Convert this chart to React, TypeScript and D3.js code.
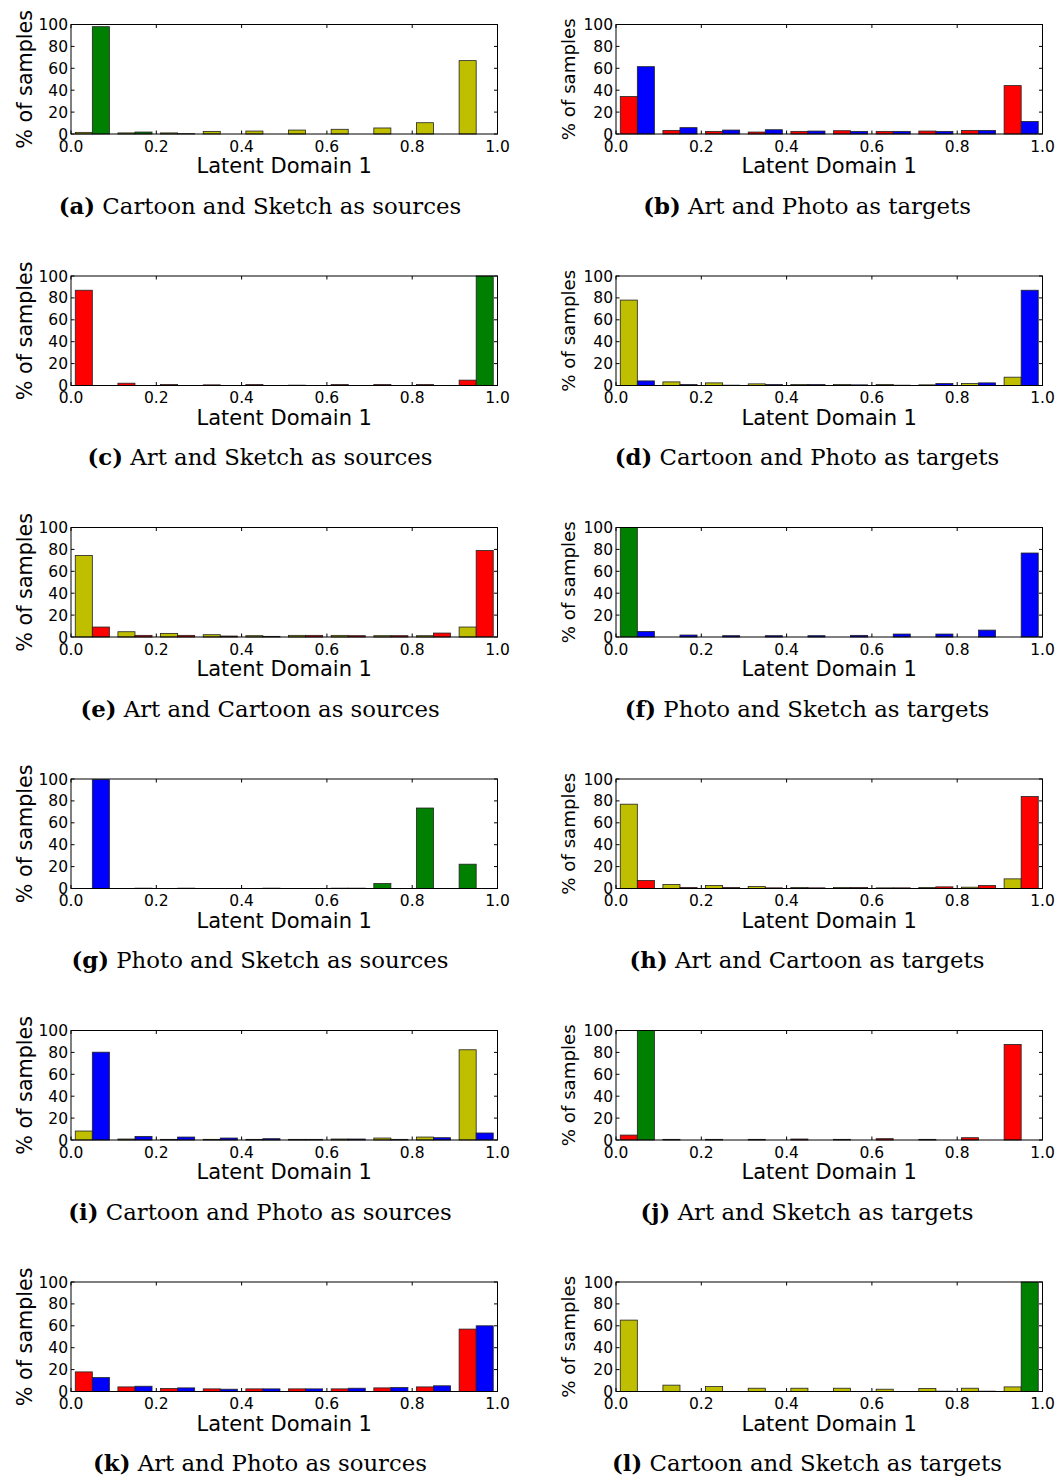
import { useEffect, useRef } from "react";
import * as d3 from "d3";

// histogram bins (left edges), width 0.1
const binEdges = [0, 0.1, 0.2, 0.3, 0.4, 0.5, 0.6, 0.7, 0.8, 0.9];
const xTicks = [0, 0.2, 0.4, 0.6, 0.8, 1.0];
const yTicks = [0, 20, 40, 60, 80, 100];

const YELLOW = "#bfbf00";
const GREEN = "#008000";
const RED = "#ff0000";
const BLUE = "#0000ff";

// (a) Cartoon and Sketch as sources
const aCartoon = [1.5, 1.0, 1.0, 2.4, 2.7, 3.6, 4.3, 5.5, 10.3, 67];
const aSketch = [98, 1.8, 0.3, 0, 0, 0, 0, 0, 0, 0];
// (b) Art and Photo as targets
const bArt = [34.2, 3.3, 2.4, 1.8, 2.4, 3.0, 2.4, 2.7, 3.3, 44.2];
const bPhoto = [61.5, 5.8, 3.6, 3.9, 2.7, 2.4, 2.4, 2.4, 3.3, 11.5];
// (c) Art and Sketch as sources
const cArt = [87, 2.1, 0.9, 0.6, 0.9, 0.3, 0.9, 0.9, 0.9, 4.9];
const cSketch = [0, 0, 0, 0, 0, 0, 0, 0, 0, 100];
// (d) Cartoon and Photo as targets
const dCartoon = [78, 3.3, 2.4, 1.5, 0.9, 0.9, 0.9, 0.6, 1.8, 7.6];
const dPhoto = [4.2, 0.9, 0.3, 0.9, 0.9, 0.6, 0.3, 1.8, 2.4, 87];
// (e) Art and Cartoon as sources
const eCartoon = [74.5, 4.8, 3.3, 2.1, 1.2, 1.5, 1.5, 1.2, 1.2, 9.1];
const eArt = [9.1, 1.5, 1.5, 0.9, 0.6, 1.5, 1.2, 1.2, 3.6, 79];
// (f) Photo and Sketch as targets
const fSketch = [100, 0, 0, 0, 0, 0, 0, 0, 0, 0];
const fPhoto = [5.1, 1.8, 1.2, 1.2, 1.2, 1.5, 2.7, 2.7, 6.3, 76.7];
// (g) Photo and Sketch as sources
const gSketch = [0, 0, 0, 0, 0, 0, 0.3, 4.5, 73.5, 22.2];
const gPhoto = [99.4, 0.3, 0.3, 0, 0.3, 0, 0.3, 0, 0, 0];
// (h) Art and Cartoon as targets
const hCartoon = [77, 3.6, 2.7, 1.8, 0.9, 0.9, 0.6, 0.9, 1.2, 8.8];
const hArt = [7.3, 0.9, 0.9, 0.6, 0.6, 0.9, 0.6, 1.5, 2.7, 84];
// (i) Cartoon and Photo as sources
const iCartoon = [8.2, 0.9, 0.6, 0.6, 0.6, 0.6, 0.9, 1.8, 2.7, 82.4];
const iPhoto = [80.2, 3.3, 2.7, 1.8, 1.2, 0.6, 0.9, 0.6, 2.1, 6.4];
// (j) Art and Sketch as targets
const jArt = [4.5, 0.6, 0.6, 0.6, 0.9, 0.6, 1.2, 0.6, 2.1, 87.3];
const jSketch = [100, 0, 0, 0, 0, 0, 0, 0, 0, 0];
// (k) Art and Photo as sources
const kArt = [17.9, 4.2, 2.7, 2.4, 2.4, 2.4, 2.4, 3.3, 4.2, 57];
const kPhoto = [12.7, 4.8, 3.3, 2.1, 2.4, 2.4, 3.0, 3.6, 5.2, 60];
// (l) Cartoon and Sketch as targets
const lCartoon = [65.2, 5.8, 4.5, 3.0, 3.0, 3.0, 2.1, 2.7, 3.0, 4.2];
const lSketch = [0, 0, 0, 0, 0, 0, 0, 0.3, 0.3, 100];

const panels = [
  { tag: "(a)", caption: "Cartoon and Sketch as sources", series: [[aCartoon, YELLOW], [aSketch, GREEN]] },
  { tag: "(b)", caption: "Art and Photo as targets", series: [[bArt, RED], [bPhoto, BLUE]] },
  { tag: "(c)", caption: "Art and Sketch as sources", series: [[cArt, RED], [cSketch, GREEN]] },
  { tag: "(d)", caption: "Cartoon and Photo as targets", series: [[dCartoon, YELLOW], [dPhoto, BLUE]] },
  { tag: "(e)", caption: "Art and Cartoon as sources", series: [[eCartoon, YELLOW], [eArt, RED]] },
  { tag: "(f)", caption: "Photo and Sketch as targets", series: [[fSketch, GREEN], [fPhoto, BLUE]] },
  { tag: "(g)", caption: "Photo and Sketch as sources", series: [[gSketch, GREEN], [gPhoto, BLUE]] },
  { tag: "(h)", caption: "Art and Cartoon as targets", series: [[hCartoon, YELLOW], [hArt, RED]] },
  { tag: "(i)", caption: "Cartoon and Photo as sources", series: [[iCartoon, YELLOW], [iPhoto, BLUE]] },
  { tag: "(j)", caption: "Art and Sketch as targets", series: [[jArt, RED], [jSketch, GREEN]] },
  { tag: "(k)", caption: "Art and Photo as sources", series: [[kArt, RED], [kPhoto, BLUE]] },
  { tag: "(l)", caption: "Cartoon and Sketch as targets", series: [[lCartoon, YELLOW], [lSketch, GREEN]] },
];

const W = 1062;
const H = 1481;

export default function App() {
  const svgRef = useRef<SVGSVGElement>(null);

  useEffect(() => {
    const svg = d3.select(svgRef.current);
    svg.selectAll("*").remove();

    const plotW = 426.5;
    const plotH = 109.5;
    const colX = [71, 616];
    const colCenter = [260, 807];
    const yLabelX = [32, 575];
    const yLabelSize = [20.7, 18.2];

    panels.forEach((p, idx) => {
      const col = idx % 2;
      const row = Math.floor(idx / 2);
      const x0 = colX[col];
      const top = 24.5 + row * 251.5;
      const bottom = top + plotH;

      const x = d3.scaleLinear().domain([0, 1]).range([x0, x0 + plotW]);
      const y = d3.scaleLinear().domain([0, 100]).range([bottom, top]);

      const g = svg.append("g");

      // bars: matplotlib hist with two datasets side by side (rwidth 0.8)
      const barW = 0.04;
      p.series.forEach(([vals, color], s) => {
        const data = (vals as number[])
          .map((v, i) => ({ v, e: binEdges[i] }))
          .filter((d) => d.v > 0);
        g.append("g")
          .selectAll("rect")
          .data(data)
          .enter()
          .append("rect")
          .attr("x", (d) => x(d.e + 0.01 + s * barW))
          .attr("width", x(barW) - x(0))
          .attr("y", (d) => y(Math.min(d.v, 100)))
          .attr("height", (d) => y(0) - y(Math.min(d.v, 100)))
          .attr("fill", color as string)
          .attr("stroke", "#222")
          .attr("stroke-width", 0.8);
      });

      // frame
      g.append("rect")
        .attr("x", x0)
        .attr("y", top)
        .attr("width", plotW)
        .attr("height", plotH)
        .attr("fill", "none")
        .attr("stroke", "#000")
        .attr("stroke-width", 1);

      const tickLen = 3.5;
      // x ticks (inward, top and bottom)
      xTicks.forEach((t) => {
        g.append("line").attr("x1", x(t)).attr("x2", x(t)).attr("y1", bottom).attr("y2", bottom - tickLen).attr("stroke", "#000");
        g.append("line").attr("x1", x(t)).attr("x2", x(t)).attr("y1", top).attr("y2", top + tickLen).attr("stroke", "#000");
        g.append("text")
          .attr("x", x(t))
          .attr("y", bottom + 17.5)
          .attr("text-anchor", "middle")
          .style("font-family", "DejaVu Sans")
          .style("font-size", "15.5px")
          .text(d3.format(".1f")(t));
      });
      // y ticks (inward, left and right)
      yTicks.forEach((t) => {
        g.append("line").attr("x1", x0).attr("x2", x0 + tickLen).attr("y1", y(t)).attr("y2", y(t)).attr("stroke", "#000");
        g.append("line").attr("x1", x0 + plotW).attr("x2", x0 + plotW - tickLen).attr("y1", y(t)).attr("y2", y(t)).attr("stroke", "#000");
        g.append("text")
          .attr("x", x0 - 3)
          .attr("y", y(t))
          .attr("dy", "0.36em")
          .attr("text-anchor", "end")
          .style("font-family", "DejaVu Sans")
          .style("font-size", "15.5px")
          .text(t);
      });

      // axis labels
      g.append("text")
        .attr("x", x0 + plotW / 2)
        .attr("y", bottom + 39)
        .attr("text-anchor", "middle")
        .style("font-family", "DejaVu Sans")
        .style("font-size", "21px")
        .text("Latent Domain 1");

      g.append("text")
        .attr("transform", `translate(${yLabelX[col]},${(top + bottom) / 2}) rotate(-90)`)
        .attr("text-anchor", "middle")
        .style("font-family", "DejaVu Sans")
        .style("font-size", `${yLabelSize[col]}px`)
        .text("% of samples");

      // caption
      const cap = g.append("text")
        .attr("x", colCenter[col])
        .attr("y", bottom + 79.5)
        .attr("text-anchor", "middle")
        .style("font-family", "DejaVu Serif")
        .style("font-size", "22.8px");
      cap.append("tspan").style("font-weight", "bold").text(p.tag);
      cap.append("tspan").text(" " + p.caption);
    });
  }, []);

  return (
    <svg
      ref={svgRef}
      width={W}
      height={H}
      style={{ position: "absolute", left: 0, top: 0, background: "#fff" }}
    ></svg>
  );
}
